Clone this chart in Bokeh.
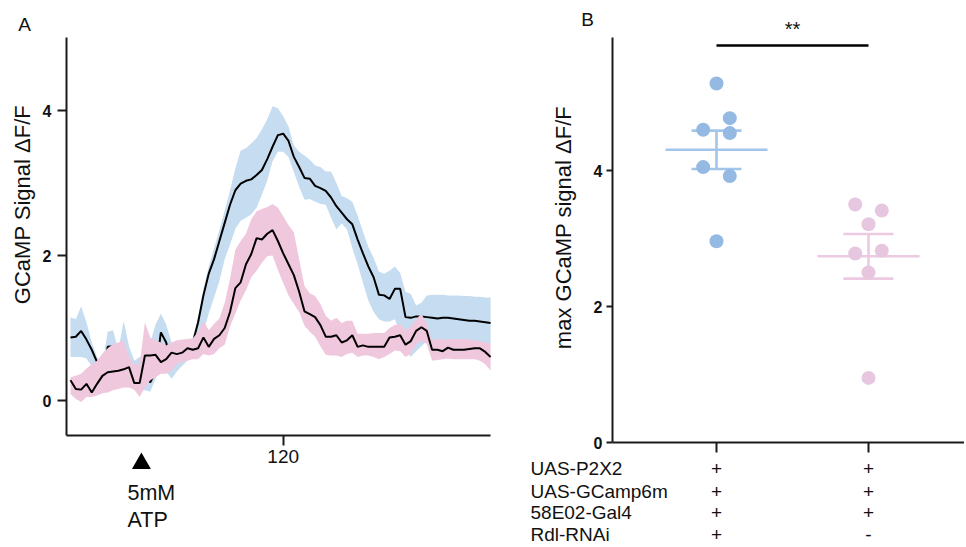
import numpy as np
from bokeh.plotting import figure
from bokeh.layouts import row
from bokeh.models import Range1d
from bokeh.core.properties import value
from bokeh.embed import file_html
from bokeh.resources import INLINE

# ---------------- data: panel A (time course, mean and band edges) ----------------
time_s = list(range(0, 240, 3))
atp_time = 40
x_tick_A = [120]
y_ticks = [0, 2, 4]

ctrl_mean = [0.87, 0.88, 0.96, 0.84, 0.70, 0.53, 0.38, 0.74, 0.75, 0.60,
             0.55, 0.45, 0.35, 0.30, 0.33, 0.25, 0.40, 0.94, 0.80, 0.48,
             0.55, 0.60, 0.68, 0.80, 1.08, 1.45, 1.75, 1.95, 2.20, 2.45,
             2.70, 2.90, 2.99, 3.03, 3.05, 3.11, 3.18, 3.33, 3.50, 3.66,
             3.68, 3.58, 3.36, 3.22, 3.07, 3.06, 2.96, 2.93, 2.89, 2.80,
             2.68, 2.59, 2.50, 2.43, 2.22, 2.03, 1.85, 1.70, 1.46, 1.45,
             1.40, 1.54, 1.54, 1.15, 1.14, 1.16, 1.16, 1.15, 1.14, 1.13,
             1.14, 1.14, 1.13, 1.12, 1.11, 1.10, 1.10, 1.09, 1.08, 1.07]
ctrl_upper = [1.15, 1.12, 1.30, 1.08, 0.80, 0.60, 0.50, 0.95, 0.97, 0.70,
              1.10, 0.75, 0.55, 0.60, 0.65, 0.80, 1.05, 1.20, 1.05, 0.80,
              0.75, 0.78, 0.80, 0.82, 1.15, 1.55, 1.85, 2.10, 2.35, 2.62,
              2.90, 3.20, 3.45, 3.48, 3.55, 3.62, 3.74, 3.88, 4.06, 4.03,
              3.92, 3.78, 3.52, 3.43, 3.38, 3.32, 3.24, 3.22, 3.16, 3.16,
              3.00, 2.82, 2.79, 2.74, 2.55, 2.33, 2.12, 1.97, 1.78, 1.75,
              1.79, 1.85, 1.76, 1.50, 1.47, 1.31, 1.35, 1.45, 1.46, 1.46,
              1.46, 1.45, 1.45, 1.45, 1.44, 1.44, 1.43, 1.43, 1.42, 1.42]
ctrl_lower = [0.60, 0.60, 0.60, 0.58, 0.47, 0.25, 0.10, 0.40, 0.45, 0.35,
              0.30, 0.20, 0.15, 0.15, 0.14, 0.12, 0.30, 0.45, 0.40, 0.30,
              0.40, 0.48, 0.55, 0.65, 0.75, 0.95, 1.20, 1.42, 1.65, 1.95,
              2.15, 2.37, 2.48, 2.52, 2.57, 2.66, 2.84, 3.03, 3.30, 3.43,
              3.43, 3.36, 3.15, 2.95, 2.77, 2.78, 2.74, 2.71, 2.70, 2.52,
              2.36, 2.44, 2.36, 2.10, 1.88, 1.62, 1.38, 1.22, 1.12, 1.09,
              1.09, 1.12, 0.92, 0.70, 0.60, 0.68, 0.75, 0.82, 0.83, 0.83,
              0.82, 0.82, 0.81, 0.81, 0.80, 0.80, 0.80, 0.79, 0.78, 0.78]

rnai_mean = [0.28, 0.16, 0.15, 0.23, 0.11, 0.23, 0.34, 0.39, 0.40, 0.41,
             0.43, 0.46, 0.24, 0.24, 0.62, 0.62, 0.63, 0.53, 0.57, 0.66,
             0.64, 0.66, 0.72, 0.70, 0.72, 0.87, 0.74, 0.85, 0.90, 1.00,
             1.22, 1.55, 1.63, 1.88, 2.02, 2.24, 2.22, 2.30, 2.35, 2.20,
             2.03, 1.88, 1.73, 1.50, 1.23, 1.19, 1.15, 1.04, 0.88, 0.88,
             0.90, 0.80, 0.83, 0.90, 0.74, 0.76, 0.74, 0.74, 0.74, 0.74,
             0.87, 0.88, 0.90, 0.77, 0.82, 0.96, 1.01, 0.96, 0.70, 0.70,
             0.68, 0.73, 0.70, 0.70, 0.70, 0.71, 0.72, 0.72, 0.67, 0.60]
rnai_upper = [0.32, 0.34, 0.37, 0.44, 0.50, 0.55, 0.65, 0.72, 0.78, 0.80,
              0.83, 0.60, 0.50, 0.50, 1.08, 0.87, 0.83, 0.80, 0.76, 0.80,
              0.83, 0.84, 0.85, 0.86, 0.95, 1.10, 0.97, 1.06, 1.13, 1.35,
              1.68, 2.08, 2.20, 2.30, 2.50, 2.61, 2.64, 2.67, 2.71, 2.66,
              2.54, 2.42, 2.32, 1.95, 1.58, 1.48, 1.44, 1.33, 1.17, 1.10,
              1.14, 1.07, 1.10, 1.10, 0.92, 0.92, 0.92, 0.93, 0.93, 0.93,
              1.00, 1.04, 1.06, 0.97, 1.02, 1.12, 1.20, 1.05, 0.83, 0.85,
              0.84, 0.84, 0.85, 0.85, 0.84, 0.84, 0.83, 0.82, 0.80, 0.78]
rnai_lower = [0.09, 0.02, -0.02, 0.05, 0.05, 0.07, 0.10, 0.11, 0.14, 0.16,
              0.18, 0.18, 0.15, 0.05, 0.18, 0.28, 0.32, 0.37, 0.37, 0.41,
              0.50, 0.53, 0.55, 0.57, 0.57, 0.64, 0.62, 0.64, 0.72, 0.77,
              1.02, 1.20, 1.38, 1.52, 1.70, 1.79, 1.90, 1.99, 2.00, 1.80,
              1.62, 1.45, 1.33, 1.22, 1.03, 0.95, 0.88, 0.75, 0.63, 0.62,
              0.62, 0.60, 0.64, 0.66, 0.60, 0.62, 0.62, 0.60, 0.57, 0.60,
              0.64, 0.69, 0.68, 0.60, 0.64, 0.78, 0.82, 0.78, 0.55, 0.56,
              0.57, 0.58, 0.57, 0.57, 0.57, 0.57, 0.57, 0.55, 0.50, 0.41]

# ---------------- data: panel B (max response per animal) ----------------
group_pos = [1, 2]
ctrl_max = [5.28, 4.77, 4.60, 4.55, 4.05, 3.92, 2.96]
rnai_max = [3.50, 3.41, 3.21, 2.82, 2.78, 2.50, 0.95]
genotype_rows = ["UAS-P2X2", "UAS-GCamp6m", "58E02-Gal4", "Rdl-RNAi"]
ctrl_signs = ["+", "+", "+", "+"]
rnai_signs = ["+", "+", "+", "-"]
sig_text = "**"

# ---------------- layout / style constants (pixels on the page) ----------------
FONT = "Liberation Sans"
AX = "#1a1a1a"
TXT = "#111111"
BLUE_BAND = "#c6ddf1"
PINK_BAND = "#f0c8de"
BLUE_DOT = "#94b9e3"
PINK_DOT = "#e7c7df"
BLUE_LINE = "#a3c5ea"
PINK_LINE = "#ebcae2"

PAGE_H = 545
LEFT_W, RIGHT_W = 525, 439
# panel A pixel mapping
T0_PX, PX_PER_S = 70.0, 1.7725
A_Y0_PX, A_PX_PER_UNIT = 400.0, 72.5
A_AX_L, A_AX_R, A_AX_T, A_AX_B = 66, 490, 37, 435
# panel B pixel mapping
G1_PX, PX_PER_G = 716.0, 152.0
B_Y0_PX, B_PX_PER_UNIT = 442.0, 68.0
B_AX_L, B_AX_T = 612, 37


def at(px):
    return (px - T0_PX) / PX_PER_S


def av(py):
    return (A_Y0_PX - py) / A_PX_PER_UNIT


def bx(px):
    return 1 + (px - G1_PX) / PX_PER_G


def bv(py):
    return (B_Y0_PX - py) / B_PX_PER_UNIT


def make_fig(width, xr, yr):
    p = figure(width=width, height=PAGE_H, x_range=Range1d(*xr), y_range=Range1d(*yr),
               output_backend="svg", toolbar_location=None,
               min_border_left=0, min_border_right=0, min_border_top=0, min_border_bottom=0)
    p.outline_line_color = None
    p.border_fill_color = "white"
    p.background_fill_color = "white"
    p.xgrid.visible = False
    p.ygrid.visible = False
    for ax in (p.xaxis[0], p.yaxis[0]):
        ax.axis_line_color = AX
        ax.axis_line_width = 2
        ax.major_tick_line_color = AX
        ax.major_tick_line_width = 2
        ax.major_tick_in = 0
        ax.minor_tick_line_color = None
        ax.major_label_text_font = FONT
        ax.major_label_text_color = TXT
    ya = p.yaxis[0]
    ya.ticker = y_ticks
    ya.major_label_text_font_style = "bold"
    ya.major_label_text_font_size = "16px"
    return p


def put_text(p, xs, ys, texts, size, align="center", angle=0.0):
    p.text(x=xs, y=ys, text=texts, text_font=value(FONT), text_font_size=value(size),
           text_align=align, text_baseline="middle", text_color=TXT, angle=angle)


# ================= panel A =================
pA = make_fig(LEFT_W, (at(0), at(LEFT_W)), (av(PAGE_H), av(0)))
ya = pA.yaxis[0]
ya.fixed_location = at(A_AX_L)
ya.bounds = (av(A_AX_B), av(A_AX_T))
ya.major_tick_out = 9
ya.major_label_standoff = 6
xa = pA.xaxis[0]
xa.fixed_location = av(A_AX_B)
xa.bounds = (at(A_AX_L), at(A_AX_R))
xa.ticker = x_tick_A
xa.major_tick_out = 10
xa.major_label_standoff = 4
xa.major_label_text_font_size = "19px"

pA.varea(x=time_s, y1=ctrl_lower, y2=ctrl_upper, fill_color=BLUE_BAND)
pA.line(time_s, ctrl_mean, line_color="black", line_width=2)
pA.varea(x=time_s, y1=rnai_lower, y2=rnai_upper, fill_color=PINK_BAND)
pA.line(time_s, rnai_mean, line_color="black", line_width=2)

pA.scatter([atp_time], [av(463)], marker="triangle", size=19,
           fill_color="black", line_color=None)
put_text(pA, [at(127)] * 2, [av(492), av(519)], ["5mM", "ATP"], "21.5px", align="left")
put_text(pA, [at(24)], [av(24)], ["A"], "19px")
put_text(pA, [at(22)], [av(204)], ["GCaMP Signal \u0394F/F"], "22px", angle=np.pi / 2)

# ================= panel B =================
b_left = LEFT_W
b_right = LEFT_W + RIGHT_W
pB = make_fig(RIGHT_W, (bx(b_left), bx(b_right)), (bv(PAGE_H), bv(0)))
yb = pB.yaxis[0]
yb.fixed_location = bx(B_AX_L)
yb.bounds = (0, bv(B_AX_T))
yb.major_tick_out = 6
yb.major_label_standoff = 4
xb = pB.xaxis[0]
xb.fixed_location = 0
xb.bounds = (bx(B_AX_L), bx(b_right))
xb.ticker = group_pos
xb.major_tick_out = 10
xb.major_label_overrides = {1: "", 2: ""}

jit = 13.3 / PX_PER_G
ctrl_jit = [0, 1, -1, 1, -1, 1, 0]
rnai_jit = [-1, 1, 0, 1, -1, 0, 0]
mean_half = 51 / PX_PER_G
cap_half = 25 / PX_PER_G

for pos, vals, jpat, lc, dc in ((group_pos[0], ctrl_max, ctrl_jit, BLUE_LINE, BLUE_DOT),
                                (group_pos[1], rnai_max, rnai_jit, PINK_LINE, PINK_DOT)):
    arr = np.array(vals)
    m = arr.mean()
    sem = arr.std(ddof=1) / np.sqrt(len(arr))
    pB.segment(x0=[pos - mean_half], y0=[m], x1=[pos + mean_half], y1=[m],
               line_color=lc, line_width=2.6)
    pB.segment(x0=[pos], y0=[m - sem], x1=[pos], y1=[m + sem],
               line_color=lc, line_width=2.6)
    pB.segment(x0=[pos - cap_half, pos - cap_half], y0=[m - sem, m + sem],
               x1=[pos + cap_half, pos + cap_half], y1=[m - sem, m + sem],
               line_color=lc, line_width=2.6)
    xs = [pos + j * jit for j in jpat]
    pB.scatter(xs, vals, size=14, fill_color=dc, line_color=None)

sig_y = bv(45)
pB.segment(x0=[group_pos[0]], y0=[sig_y], x1=[group_pos[1]], y1=[sig_y],
           line_color="black", line_width=2.3)
put_text(pB, [(group_pos[0] + group_pos[1]) / 2], [bv(28)], [sig_text], "20px")
put_text(pB, [bx(587)], [bv(18.5)], ["B"], "19px")
put_text(pB, [bx(563)], [bv(227)], ["max GCaMP signal \u0394F/F"], "22px", angle=np.pi / 2)

row_px = [468, 490.5, 512, 533.5]
row_y = [bv(r) for r in row_px]
put_text(pB, [bx(530)] * len(genotype_rows), row_y, genotype_rows, "19px", align="left")
put_text(pB, [group_pos[0]] * len(ctrl_signs), row_y, ctrl_signs, "19px")
put_text(pB, [group_pos[1]] * len(rnai_signs), row_y, rnai_signs, "19px")

layout = row(pA, pB)
open("out.html", "w").write(file_html(layout, INLINE))
